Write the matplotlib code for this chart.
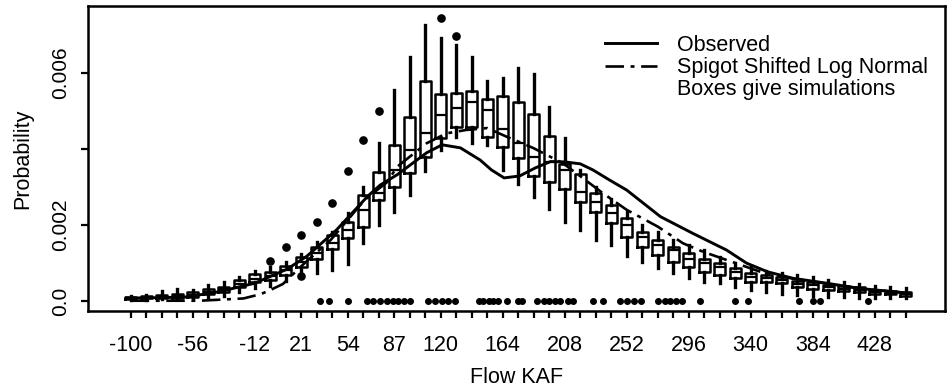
import numpy as np
import matplotlib
matplotlib.use("Agg")
import matplotlib.pyplot as plt
from matplotlib.lines import Line2D

plt.rcParams['font.family'] = ['Liberation Sans', 'DejaVu Sans']

# flow bins (KAF), one box per bin
flow_bins = np.arange(-100, 451, 11)
shown_labels = [-100, -56, -12, 21, 54, 87, 120, 164, 208, 252, 296, 340, 384, 428]

# simulated box statistics per bin
whis_lo = [0.00003, 0.00004, 0.00005, 0.00005, 0.00007, 0.00009, 0.00013, 0.00024, 0.00034, 0.00039,
           0.00053, 0.00077, 0.00073, 0.00082, 0.00097, 0.00152, 0.00200, 0.00235, 0.00279, 0.00343,
           0.00397, 0.00432, 0.00417, 0.00410, 0.00345, 0.00308, 0.00274, 0.00241, 0.00209, 0.00187,
           0.00161, 0.00147, 0.00118, 0.00103, 0.00086, 0.00073, 0.00060, 0.00051, 0.00047, 0.00038,
           0.00029, 0.00024, 0.00020, 0.00016, 0.00013, 0.00012, 0.00011, 0.00009, 0.00008, 0.00008,
           0.00007]
q1 = [0.00005, 0.00007, 0.00008, 0.00008, 0.00011, 0.00018, 0.00024, 0.00038, 0.00049, 0.00055,
      0.00068, 0.00090, 0.00112, 0.00136, 0.00165, 0.00195, 0.00266, 0.00301, 0.00336, 0.00380,
      0.00428, 0.00457, 0.00457, 0.00432, 0.00404, 0.00377, 0.00330, 0.00314, 0.00294, 0.00261,
      0.00235, 0.00206, 0.00169, 0.00143, 0.00121, 0.00103, 0.00090, 0.00077, 0.00068, 0.00060,
      0.00051, 0.00050, 0.00047, 0.00038, 0.00033, 0.00029, 0.00027, 0.00024, 0.00020, 0.00018,
      0.00013]
median = [0.00007, 0.00009, 0.00012, 0.00013, 0.00017, 0.00025, 0.00032, 0.00046, 0.00057, 0.00067,
          0.00082, 0.00103, 0.00127, 0.00152, 0.00187, 0.00239, 0.00283, 0.00345, 0.00397, 0.00441,
          0.00489, 0.00508, 0.00524, 0.00502, 0.00452, 0.00415, 0.00380, 0.00367, 0.00345, 0.00288,
          0.00261, 0.00231, 0.00200, 0.00169, 0.00147, 0.00134, 0.00112, 0.00099, 0.00090, 0.00077,
          0.00064, 0.00061, 0.00055, 0.00046, 0.00042, 0.00036, 0.00033, 0.00030, 0.00025, 0.00022,
          0.00018]
q3 = [0.00011, 0.00013, 0.00016, 0.00020, 0.00024, 0.00033, 0.00038, 0.00055, 0.00070, 0.00077,
      0.00092, 0.00115, 0.00141, 0.00174, 0.00209, 0.00279, 0.00340, 0.00410, 0.00485, 0.00579,
      0.00544, 0.00546, 0.00553, 0.00531, 0.00540, 0.00524, 0.00491, 0.00434, 0.00360, 0.00334,
      0.00285, 0.00253, 0.00218, 0.00182, 0.00161, 0.00141, 0.00127, 0.00112, 0.00099, 0.00086,
      0.00073, 0.00068, 0.00064, 0.00053, 0.00051, 0.00042, 0.00039, 0.00036, 0.00029, 0.00027,
      0.00024]
whis_hi = [0.00013, 0.00016, 0.00026, 0.00031, 0.00029, 0.00042, 0.00051, 0.00064, 0.00079, 0.00090,
           0.00103, 0.00125, 0.00156, 0.00182, 0.00231, 0.00301, 0.00415, 0.00555, 0.00643, 0.00726,
           0.00693, 0.00673, 0.00643, 0.00580, 0.00587, 0.00612, 0.00596, 0.00511, 0.00428, 0.00345,
           0.00301, 0.00268, 0.00235, 0.00200, 0.00182, 0.00161, 0.00147, 0.00134, 0.00117, 0.00101,
           0.00090, 0.00079, 0.00073, 0.00068, 0.00064, 0.00055, 0.00050, 0.00045, 0.00039, 0.00037,
           0.00034]
# outliers: (bin index, value)
outlier_bin = [9, 10, 11, 11, 12, 13, 14, 15, 16, 20, 21]
outlier_val = [0.00105, 0.00141, 0.00174, 0.00066, 0.00209, 0.00259, 0.00341, 0.00424, 0.00500,
               0.00744, 0.00698]

# observed density curve
obs_x = [-103, -79, -60, -37, -12, 1, 11, 25, 46, 58, 68, 77, 89, 110, 121, 134, 148, 156, 165,
         176, 187, 198, 208, 219, 228, 240, 252, 276, 299, 323, 337, 352, 370, 394, 418, 452]
obs_y = [0.00008, 0.00009, 0.00011, 0.00025, 0.00047, 0.00068, 0.00084, 0.00118, 0.00187, 0.00235,
         0.00275, 0.00305, 0.00332, 0.00390, 0.00411, 0.00403, 0.00371, 0.00345, 0.00324,
         0.00329, 0.00350, 0.00367, 0.00366, 0.00361, 0.00345, 0.00318, 0.00292, 0.00222, 0.00178,
         0.00134, 0.00100, 0.00077, 0.00060, 0.00047, 0.00033, 0.00021]

# Spigot shifted log normal curve
sln_x = [-100, -86, -51, -20, -8, -1, 8, 22, 42, 66, 82, 89, 110, 124, 138, 153, 167, 178, 186,
         207, 235, 252, 274, 292, 306, 330, 347, 370, 394, 418, 452]
sln_y = [0.00001, 0.00001, 0.00001, 0.00007, 0.00018, 0.00029, 0.00045, 0.00095, 0.00161, 0.00266,
         0.00313, 0.00353, 0.00415, 0.00441, 0.00450, 0.00455, 0.00432, 0.00415, 0.00402,
         0.00362, 0.00284, 0.00240, 0.00196, 0.00152, 0.00130, 0.00099, 0.00077, 0.00059,
         0.00046, 0.00033, 0.00021]

# observed flows (rug at zero)
rug_flow = [34, 41, 54, 68, 72, 77, 82, 86, 90, 94, 98, 111, 116, 121, 125, 130, 147, 150, 154, 157,
            161, 167, 175, 178, 188, 193, 197, 201, 205, 210, 214, 228, 235, 247, 252, 257, 262,
            274, 279, 283, 287, 291, 304, 329, 338, 374, 384, 389, 423]

fig = plt.figure(figsize=(9.48, 3.89), dpi=100)
ax = fig.add_axes([88/948, 1-311/389, (945-88)/948, (311-6)/389])

stats = []
for i, x in enumerate(flow_bins):
    fl = [v for b, v in zip(outlier_bin, outlier_val) if b == i]
    stats.append(dict(med=median[i], q1=q1[i], q3=q3[i], whislo=whis_lo[i], whishi=whis_hi[i], fliers=fl))

ax.bxp(stats, positions=flow_bins, widths=8, showcaps=False, manage_ticks=False,
       boxprops=dict(color='black', linewidth=1.8),
       whiskerprops=dict(color='black', linewidth=2.4),
       medianprops=dict(color='black', linewidth=1.6),
       flierprops=dict(marker='o', markerfacecolor='black', markeredgecolor='black', markersize=5.2))

ax.plot(obs_x, obs_y, color='black', lw=2.1, label='Observed')
ax.plot(sln_x, sln_y, color='black', lw=1.9, dashes=(7, 2.5, 1.5, 2.5), label='Spigot Shifted Log Normal')
ax.plot(rug_flow, np.zeros(len(rug_flow)), 'o', color='black', ms=4, ls='none')

ax.set_xlim(-130.3, 477.9)
ax.set_ylim(-0.00026, 0.00776)

ax.set_xticks(flow_bins)
ax.set_xticklabels([str(v) if v in shown_labels else '' for v in flow_bins])
ax.set_yticks([0, 0.002, 0.004, 0.006])
ax.set_yticklabels(['0.0', '0.002', '', '0.006'], rotation=90, va='center')
ax.tick_params(axis='x', direction='out', length=5, width=1.6, pad=12, labelsize=15.5)
ax.tick_params(axis='y', direction='out', length=5, width=1.6, pad=8, labelsize=15)
for s in ax.spines.values():
    s.set_linewidth(1.8)

ax.set_xlabel('Flow KAF', fontsize=15.5)
ax.set_ylabel('Probability', fontsize=15.5)
ax.xaxis.set_label_coords(0.5, -0.185)
ax.yaxis.set_label_coords(-0.064, 0.5)

handles = [Line2D([], [], color='black', lw=2.1),
           Line2D([], [], color='black', lw=1.9, dashes=(7, 2.5, 1.5, 2.5)),
           Line2D([], [], color='none')]
ax.legend(handles, ['Observed', 'Spigot Shifted Log Normal', 'Boxes give simulations'],
          loc='upper left', bbox_to_anchor=((605-88)/857, 0.905), frameon=False,
          fontsize=15.5, handlelength=2.4, handletextpad=0.95, labelspacing=0.05,
          borderpad=0, borderaxespad=0)

fig.savefig('out.png', dpi=100)
